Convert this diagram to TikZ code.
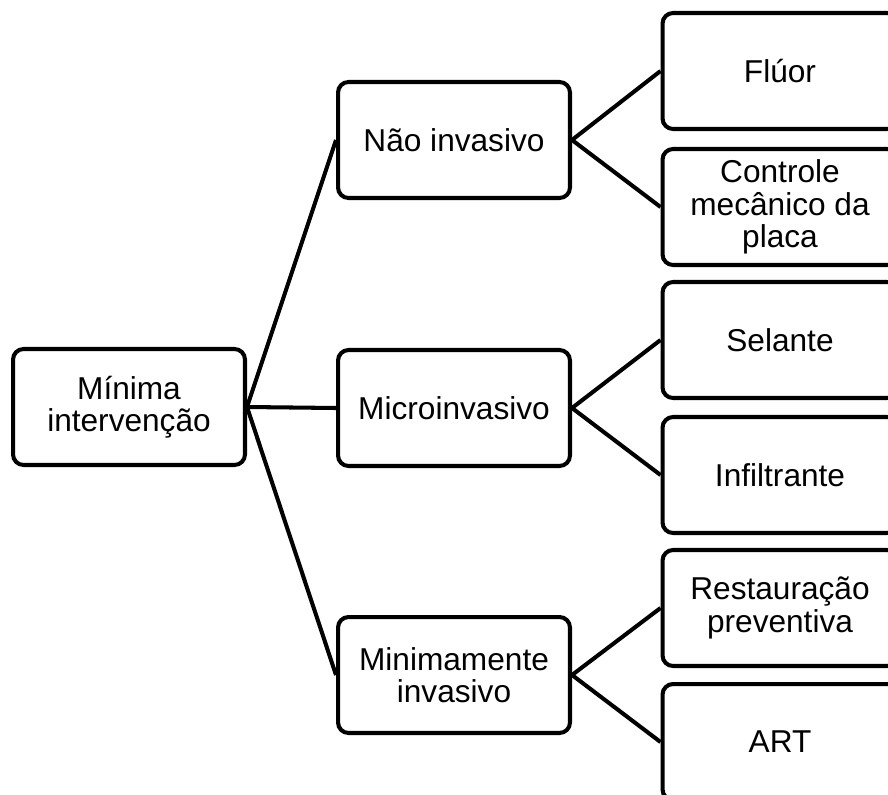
\documentclass[tikz,border=0pt]{standalone}
\usepackage{fontspec}
\setmainfont{Liberation Sans}
\usepackage{tikz}
\usetikzlibrary{positioning}
\tikzset{
  box/.style={draw, line width=2.3pt, rounded corners=6pt, fill=white, align=center,
    minimum width=4.64cm, minimum height=2.32cm, inner sep=2pt,
    font=\fontsize{18}{18.4}\selectfont},
  leaf/.style={box, minimum width=4.7cm},
  link/.style={line width=2.3pt}
}
\begin{document}
\begin{tikzpicture}[x=0.02cm, y=-0.02cm]
\useasboundingbox (0,0) rectangle (888,794);
% root
\node[box] (root) at (129,407) {Mínima\\intervenção};
% middle level
\node[box] (nao) at (454,140) {Não invasivo};
\node[box] (micro) at (454,408) {Microinvasivo};
\node[box] (minim) at (454,675) {Minimamente\\invasivo};
% leaves
\node[leaf] (fluor) at (780,71) {Flúor};
\node[leaf] (ctrl) at (780,207) {Controle\\mecânico da\\placa};
\node[leaf] (sel) at (780,340) {Selante};
\node[leaf] (inf) at (780,475) {Infiltrante};
\node[leaf] (rest) at (780,608) {Restauração\\preventiva};
\node[leaf] (art) at (780,742) {ART};
% connectors
\draw[link] (root.east) -- (nao.west);
\draw[link] (root.east) -- (micro.west);
\draw[link] (root.east) -- (minim.west);
\draw[link] (nao.east) -- (fluor.west);
\draw[link] (nao.east) -- (ctrl.west);
\draw[link] (micro.east) -- (sel.west);
\draw[link] (micro.east) -- (inf.west);
\draw[link] (minim.east) -- (rest.west);
\draw[link] (minim.east) -- (art.west);
\end{tikzpicture}
\end{document}
